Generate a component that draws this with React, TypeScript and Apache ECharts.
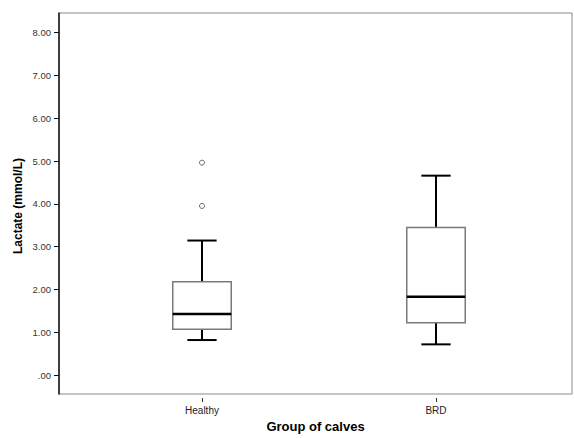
import React, { useEffect, useRef } from "react";
import * as echarts from "echarts";

const categories = ["Healthy", "BRD"];
const lowerWhisker = [0.9, 0.8];
const quartile1 = [1.15, 1.3];
const medians = [1.5, 1.9];
const quartile3 = [2.25, 3.5];
const upperWhisker = [3.2, 4.7];
const outlierCategory = [0, 0];
const outlierValue = [5.0, 4.0];
const yTicks = [0, 1, 2, 3, 4, 5, 6, 7, 8];

const FONT = "'Liberation Sans', Arial, sans-serif";

export default function App() {
  const ref = useRef<HTMLDivElement>(null);
  useEffect(() => {
    if (!ref.current) return;
    const chart = echarts.init(ref.current, null, { renderer: "svg" });
    const boxData = categories.map((_, i) => [
      i,
      lowerWhisker[i],
      quartile1[i],
      medians[i],
      quartile3[i],
      upperWhisker[i],
    ]);
    const outliers = outlierCategory.map((c, i) => [c, outlierValue[i]]);
    const yMin = -0.44;
    const yMax = 8.46;
    chart.setOption({
      animation: false,
      backgroundColor: "#ffffff",
      textStyle: { fontFamily: FONT },
      grid: [
        {
          left: 59,
          top: 13,
          width: 513,
          height: 385,
          show: true,
          borderColor: "#8a8a8a",
          borderWidth: 1,
          backgroundColor: "transparent",
        },
        { left: 85, top: 13, width: 468, height: 385 },
      ],
      xAxis: [
        {
          gridIndex: 0,
          type: "value",
          min: 0,
          max: 1,
          axisLine: { show: false },
          axisTick: { show: false },
          axisLabel: { show: false },
          splitLine: { show: false },
          name: "Group of calves",
          nameLocation: "middle",
          nameGap: 26,
          nameTextStyle: { fontSize: 13, fontWeight: "bold", color: "#000", fontFamily: FONT },
        },
        {
          gridIndex: 1,
          type: "category",
          data: categories,
          boundaryGap: true,
          axisLine: { show: false, onZero: false },
          axisTick: { show: true, alignWithLabel: true, length: 4, lineStyle: { color: "#333", width: 1 } },
          axisLabel: { fontSize: 10, color: "#222", margin: 7, fontFamily: FONT },
          splitLine: { show: false },
        },
      ],
      yAxis: [
        {
          gridIndex: 0,
          type: "value",
          min: yMin,
          max: yMax,
          axisLine: { show: true, onZero: false, lineStyle: { color: "#111", width: 1.5 } },
          axisTick: {
            show: true,
            length: 5,
            customValues: yTicks,
            lineStyle: { color: "#111", width: 1 },
          },
          axisLabel: {
            show: true,
            customValues: yTicks,
            fontSize: 9.5,
            color: "#333",
            margin: 8,
            fontFamily: FONT,
            formatter: (v: number) => (v === 0 ? ".00" : v.toFixed(2)),
          },
          splitLine: { show: false },
        },
        {
          gridIndex: 1,
          type: "value",
          min: yMin,
          max: yMax,
          show: false,
          splitLine: { show: false },
        },
      ],
      graphic: [
        {
          type: "text",
          x: 18,
          y: 206,
          rotation: Math.PI / 2,
          style: {
            text: "Lactate (mmol/L)",
            fontSize: 12,
            fontWeight: "bold",
            fontFamily: FONT,
            fill: "#000",
            textAlign: "center",
            textVerticalAlign: "middle",
          },
        },
      ],
      series: [
        {
          type: "custom",
          xAxisIndex: 1,
          yAxisIndex: 1,
          data: boxData,
          encode: { x: 0, y: [1, 2, 3, 4, 5] },
          renderItem: (params: any, api: any) => {
            const idx = api.value(0);
            const lo = api.coord([idx, api.value(1)]);
            const q1 = api.coord([idx, api.value(2)]);
            const med = api.coord([idx, api.value(3)]);
            const q3 = api.coord([idx, api.value(4)]);
            const hi = api.coord([idx, api.value(5)]);
            const band = api.size([1, 0])[0];
            const half = band * 0.125;
            const cap = band * 0.0625;
            const cx = lo[0];
            const black = { stroke: "#000", lineWidth: 2, fill: "none" };
            return {
              type: "group",
              children: [
                { type: "line", shape: { x1: cx, y1: q3[1], x2: cx, y2: hi[1] }, style: black },
                { type: "line", shape: { x1: cx - cap, y1: hi[1], x2: cx + cap, y2: hi[1] }, style: black },
                { type: "line", shape: { x1: cx, y1: q1[1], x2: cx, y2: lo[1] }, style: black },
                { type: "line", shape: { x1: cx - cap, y1: lo[1], x2: cx + cap, y2: lo[1] }, style: black },
                {
                  type: "rect",
                  shape: { x: cx - half, y: q3[1], width: half * 2, height: q1[1] - q3[1] },
                  style: { stroke: "#7a7a7a", lineWidth: 1.5, fill: "#ffffff" },
                },
                {
                  type: "line",
                  shape: { x1: cx - half, y1: med[1], x2: cx + half, y2: med[1] },
                  style: { stroke: "#000", lineWidth: 2.5 },
                },
              ],
            };
          },
        },
        {
          type: "scatter",
          xAxisIndex: 1,
          yAxisIndex: 1,
          data: outliers,
          symbol: "circle",
          symbolSize: 5,
          itemStyle: { color: "#ffffff", borderColor: "#444", borderWidth: 1 },
        },
      ],
    });
    return () => chart.dispose();
  }, []);
  return <div ref={ref} style={{ position: "fixed", left: 0, top: 0, width: 574, height: 438 }} />;
}
